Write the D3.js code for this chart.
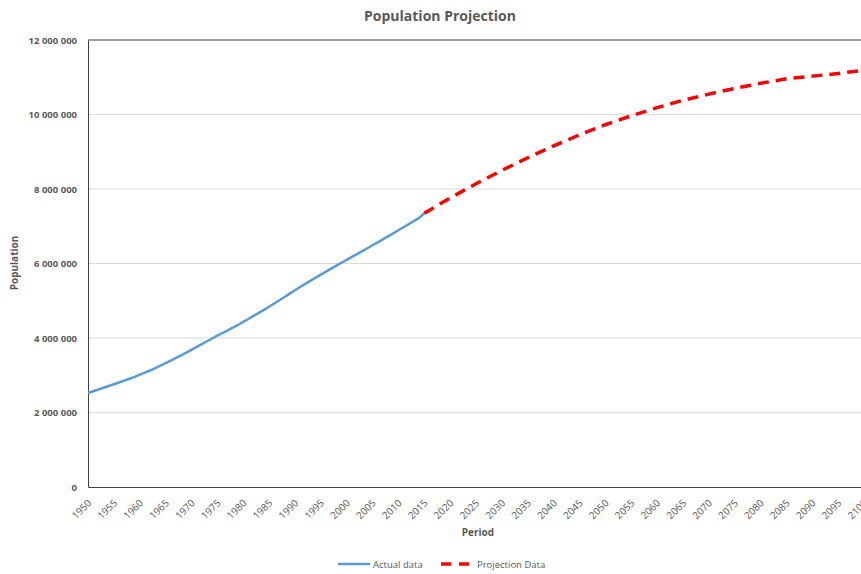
<!DOCTYPE html>
<html>
<head>
<meta charset="utf-8">
<script src="https://cdn.jsdelivr.net/npm/d3@7"></script>
<style>
body { margin:0; background:#fff; }
text { font-family: "Open Sans", "Noto Sans", sans-serif; fill:#595959; }
</style>
</head>
<body>
<svg width="861" height="574"></svg>
<script>
// actual data, 1950-2015 (yearly)
var actualYears = d3.range(1950, 2016);
var actualValues = [2525,2572,2619,2665,2712,2758,2806,2855,2907,2958,
  3018,3069,3127,3193,3260,3325,3395,3464,3535,3609,
  3682,3760,3836,3912,3987,4062,4134,4205,4276,4350,
  4431,4510,4592,4674,4755,4840,4925,5013,5102,5192,
  5282,5369,5453,5537,5620,5702,5783,5863,5942,6020,
  6098,6176,6254,6332,6410,6489,6568,6648,6729,6810,
  6892,6974,7057,7140,7225,7349];
// projection, 2015-2100 every 5 years
var projYears = [2015,2020,2025,2030,2035,2040,2045,2050,2055,2060,2065,2070,2075,2080,2085,2090,2095,2100];
var projValues = [7349,7758,8142,8501,8839,9157,9454,9725,9965,10184,10380,10548,10700,10837,10957,11030,11100,11190];
var yTicks = [0,2000000,4000000,6000000,8000000,10000000,12000000];
var xTicks = d3.range(1950, 2101, 5);

var svg = d3.select("svg");
var pLeft = 88, pRight = 864, pTop = 40, pBottom = 487;

var x = d3.scaleLinear().domain([1950, 2100]).range([pLeft, pRight]);
var y = d3.scaleLinear().domain([0, 12000000]).range([pBottom, pTop]);

var fmt = function(d){ return d3.format(",")(d).replace(/,/g, " "); };

// grid
svg.append("g").selectAll("line")
  .data(yTicks.slice(1, -1))
  .enter().append("line")
  .attr("x1", pLeft).attr("x2", 861)
  .attr("y1", function(d){ return y(d); })
  .attr("y2", function(d){ return y(d); })
  .attr("stroke", "#d9d9d9").attr("stroke-width", 1);

// top border
svg.append("line")
  .attr("x1", pLeft).attr("x2", 861)
  .attr("y1", y(12000000)).attr("y2", y(12000000))
  .attr("stroke", "#404040").attr("stroke-width", 1);

// y axis
var yAxis = svg.append("g")
  .attr("transform", "translate(" + pLeft + ",0)")
  .call(d3.axisLeft(y).tickValues(yTicks).tickFormat(fmt).tickSize(0).tickPadding(11));
yAxis.select(".domain").attr("stroke", "#404040");
yAxis.selectAll("text").style("font-size", "9.5px").style("font-weight", "bold").attr("fill", "#595959");

// x axis
var xAxis = svg.append("g")
  .attr("transform", "translate(0," + pBottom + ")")
  .call(d3.axisBottom(x).tickValues(xTicks).tickFormat(d3.format("d")).tickSize(0));
xAxis.select(".domain").attr("stroke", "#404040");
xAxis.selectAll("text")
  .style("font-size", "10px").attr("fill", "#595959")
  .style("text-anchor", "end")
  .attr("dy", "0.35em")
  .attr("transform", "translate(-1,12) rotate(-45)");

var line = d3.line()
  .x(function(d){ return x(d[0]); })
  .y(function(d){ return y(d[1] * 1000); });

svg.append("path")
  .datum(actualYears.map(function(d, i){ return [d, actualValues[i]]; }))
  .attr("d", line)
  .attr("fill", "none").attr("stroke", "#5b9bd5").attr("stroke-width", 2.5);

svg.append("path")
  .datum(projYears.map(function(d, i){ return [d, projValues[i]]; }))
  .attr("d", line)
  .attr("fill", "none").attr("stroke", "#ff0000").attr("stroke-width", 3.5)
  .attr("stroke-dasharray", "11,7");

// titles
svg.append("text").attr("x", 440).attr("y", 21).attr("text-anchor", "middle")
  .style("font-size", "14px").style("font-weight", "bold").text("Population Projection");
svg.append("text").attr("transform", "translate(18,263) rotate(-90)").attr("text-anchor", "middle")
  .style("font-size", "10px").style("font-weight", "bold").text("Population");
svg.append("text").attr("x", 478).attr("y", 536).attr("text-anchor", "middle")
  .style("font-size", "10px").style("font-weight", "bold").text("Period");

// legend
var lg = svg.append("g").attr("transform", "translate(0,564)");
lg.append("line").attr("x1", 338).attr("x2", 370).attr("y1", 0).attr("y2", 0)
  .attr("stroke", "#5b9bd5").attr("stroke-width", 2.5);
lg.append("text").attr("x", 373).attr("y", 4).style("font-size", "9.5px").text("Actual data");
lg.append("line").attr("x1", 441).attr("x2", 473).attr("y1", 0).attr("y2", 0)
  .attr("stroke", "#ff0000").attr("stroke-width", 3.5).attr("stroke-dasharray", "10,8");
lg.append("text").attr("x", 477).attr("y", 4).style("font-size", "9.5px").text("Projection Data");
</script>
</body>
</html>
